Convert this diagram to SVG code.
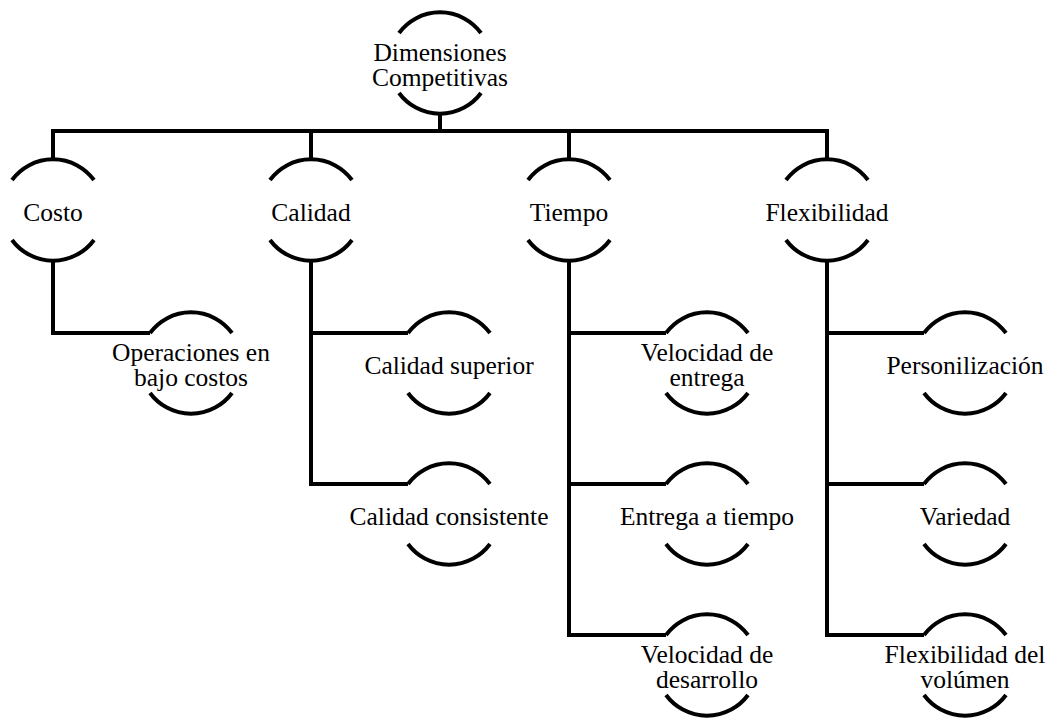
<svg xmlns="http://www.w3.org/2000/svg" xmlns:xlink="http://www.w3.org/1999/xlink" width="1054" height="722" viewBox="0 0 1054 722">
<style>
.arc{fill:none;stroke:#000;stroke-width:4}
.con{fill:none;stroke:#000;stroke-width:4;stroke-linejoin:miter}
.t{font-size:25.5px;fill:#000;text-anchor:middle}
</style>
<defs>
<path id="arcs" class="arc" d="M-41 -30 A51 51 0 0 1 41 -30 M-41 30 A51 51 0 0 0 41 30"/>
</defs>
<rect width="1054" height="722" fill="#fff"/>
<g id="connectors" class="con">
<path d="M440 114 V131"/>
<path d="M53 159 V131 H827 V159"/>
<path d="M311 131 V159"/>
<path d="M569 131 V159"/>
<path d="M53 261 V333 H150"/>
<path d="M311 261 V484 H408"/>
<path d="M311 333 H408"/>
<path d="M569 261 V635 H666"/>
<path d="M569 333 H666"/>
<path d="M569 484 H666"/>
<path d="M827 261 V635 H924"/>
<path d="M827 333 H924"/>
<path d="M827 484 H924"/>
</g>
<g class="t" font-family="Liberation Serif, Times New Roman, serif">
<g id="root"><use xlink:href="#arcs" x="440" y="63"/><text x="440" y="61">Dimensiones</text><text x="440" y="86">Competitivas</text></g>
<g id="costo"><use xlink:href="#arcs" x="53" y="210"/><text x="53" y="221">Costo</text></g>
<g id="calidad"><use xlink:href="#arcs" x="311" y="210"/><text x="311" y="221">Calidad</text></g>
<g id="tiempo"><use xlink:href="#arcs" x="569" y="210"/><text x="569" y="221">Tiempo</text></g>
<g id="flexibilidad"><use xlink:href="#arcs" x="827" y="210"/><text x="827" y="221">Flexibilidad</text></g>
<g id="operaciones"><use xlink:href="#arcs" x="191" y="363"/><text x="191" y="361">Operaciones en</text><text x="191" y="386">bajo costos</text></g>
<g id="calidad-superior"><use xlink:href="#arcs" x="449" y="363"/><text x="449" y="374">Calidad superior</text></g>
<g id="calidad-consistente"><use xlink:href="#arcs" x="449" y="514"/><text x="449" y="525">Calidad consistente</text></g>
<g id="velocidad-entrega"><use xlink:href="#arcs" x="707" y="363"/><text x="707" y="361">Velocidad de</text><text x="707" y="386">entrega</text></g>
<g id="entrega-tiempo"><use xlink:href="#arcs" x="707" y="514"/><text x="707" y="525">Entrega a tiempo</text></g>
<g id="velocidad-desarrollo"><use xlink:href="#arcs" x="707" y="665"/><text x="707" y="663">Velocidad de</text><text x="707" y="688">desarrollo</text></g>
<g id="personalizacion"><use xlink:href="#arcs" x="965" y="363"/><text x="965" y="374">Personilización</text></g>
<g id="variedad"><use xlink:href="#arcs" x="965" y="514"/><text x="965" y="525">Variedad</text></g>
<g id="flex-volumen"><use xlink:href="#arcs" x="965" y="665"/><text x="965" y="663">Flexibilidad del</text><text x="965" y="688">volúmen</text></g>
</g>
</svg>
